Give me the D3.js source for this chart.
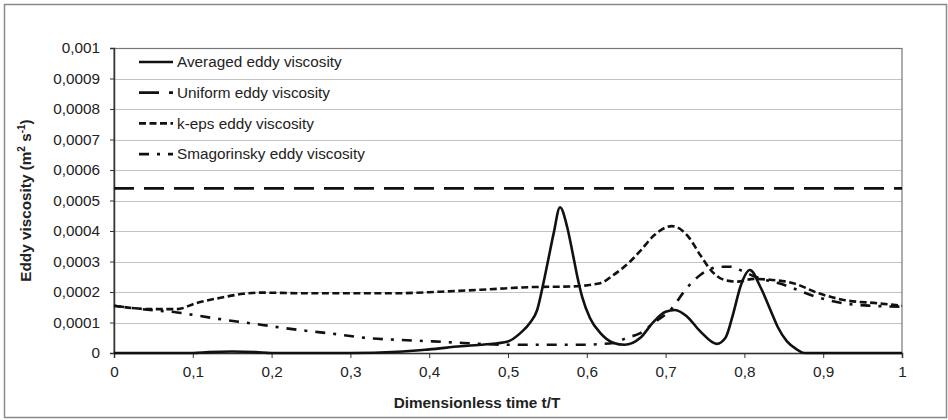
<!DOCTYPE html>
<html>
<head>
<meta charset="utf-8">
<script src="https://cdn.jsdelivr.net/npm/d3@7"></script>
<style>
  body { margin: 0; background: #fff; }
  svg { display: block; font-family: "Liberation Sans", Arial, sans-serif; }
</style>
</head>
<body>
<div class="chart"></div>
<script>
// values are read in units of 1e-4 m2/s
const UNIT = 1e-4;

const avgT = [0, 0.1, 0.12, 0.15, 0.18, 0.2, 0.3, 0.36, 0.4, 0.44, 0.47, 0.5, 0.516, 0.528, 0.537, 0.545, 0.551, 0.558, 0.566, 0.575, 0.582, 0.588, 0.594, 0.604, 0.617, 0.634, 0.648, 0.668, 0.685, 0.7, 0.712, 0.727, 0.744, 0.765, 0.776, 0.786, 0.795, 0.807, 0.82, 0.833, 0.842, 0.854, 0.867, 0.876, 1];
const avgV = [0, 0, 0.03, 0.05, 0.03, 0, 0, 0.04, 0.12, 0.22, 0.28, 0.38, 0.66, 0.99, 1.41, 2.3, 3.05, 3.93, 4.78, 4.14, 3.28, 2.5, 1.85, 1.15, 0.66, 0.33, 0.27, 0.5, 1.03, 1.35, 1.41, 1.2, 0.71, 0.3, 0.5, 1.31, 2.18, 2.72, 2.18, 1.41, 0.87, 0.38, 0.11, 0, 0];

const uniformT = [0, 1];
const uniformV = [5.4, 5.4];

const kepsT = [0, 0.046, 0.08, 0.105, 0.135, 0.164, 0.185, 0.24, 0.36, 0.414, 0.477, 0.528, 0.579, 0.617, 0.634, 0.655, 0.668, 0.685, 0.708, 0.729, 0.744, 0.759, 0.774, 0.791, 0.812, 0.833, 0.862, 0.894, 0.926, 0.969, 1];
const kepsV = [1.55, 1.44, 1.44, 1.64, 1.81, 1.94, 1.98, 1.96, 1.96, 2.01, 2.09, 2.16, 2.18, 2.29, 2.56, 3.0, 3.35, 3.85, 4.16, 3.81, 3.21, 2.67, 2.4, 2.34, 2.43, 2.4, 2.29, 1.96, 1.74, 1.63, 1.55];

const smagT = [0, 0.046, 0.08, 0.1, 0.122, 0.156, 0.181, 0.215, 0.24, 0.278, 0.321, 0.363, 0.405, 0.443, 0.499, 0.592, 0.634, 0.651, 0.668, 0.685, 0.706, 0.727, 0.744, 0.77, 0.782, 0.799, 0.812, 0.829, 0.846, 0.862, 0.894, 0.926, 0.96, 1];
const smagV = [1.55, 1.41, 1.33, 1.25, 1.16, 1.03, 0.95, 0.82, 0.74, 0.63, 0.49, 0.43, 0.38, 0.33, 0.27, 0.27, 0.33, 0.5, 0.65, 0.99, 1.41, 2.13, 2.56, 2.83, 2.83, 2.67, 2.52, 2.38, 2.27, 2.12, 1.82, 1.63, 1.55, 1.52];

const xTicks = [0, 0.1, 0.2, 0.3, 0.4, 0.5, 0.6, 0.7, 0.8, 0.9, 1];
const yTicks = [0, 0.0001, 0.0002, 0.0003, 0.0004, 0.0005, 0.0006, 0.0007, 0.0008, 0.0009, 0.001];

const seriesNames = ['Averaged eddy viscosity', 'Uniform eddy viscosity', 'k-eps eddy viscosity', 'Smagorinsky eddy viscosity'];

const width = 948, height = 420;
const margin = { top: 48, right: 46, bottom: 67, left: 114 };
const fontSize = '15.3px';

const locale = d3.formatLocale({ decimal: ',', thousands: '.', grouping: [3], currency: ['', ''] });

const svg = d3.select('.chart')
  .append('svg')
  .attr('width', width)
  .attr('height', height);

// outer frame
svg.append('rect')
  .attr('x', 4.5).attr('y', 4.5)
  .attr('width', 942).attr('height', 413)
  .attr('fill', 'none')
  .attr('stroke', '#8a8a8a')
  .attr('stroke-width', 1.5);

const x = d3.scaleLinear().domain([0, 1]).range([margin.left, width - margin.right]);
const y = d3.scaleLinear().domain([0, 0.001]).range([height - margin.bottom, margin.top]);

// gridlines
svg.append('g')
  .selectAll('line')
  .data(yTicks.slice(1))
  .enter().append('line')
  .attr('x1', x(0)).attr('x2', x(1))
  .attr('y1', d => Math.round(y(d)) + 0.5)
  .attr('y2', d => Math.round(y(d)) + 0.5)
  .attr('stroke', '#c4c4c4')
  .attr('stroke-width', 1);

// plot frame
svg.append('rect')
  .attr('x', x(0)).attr('y', Math.round(y(0.001)) + 0.5)
  .attr('width', x(1) - x(0))
  .attr('height', y(0) - y(0.001))
  .attr('fill', 'none')
  .attr('stroke', '#777')
  .attr('stroke-width', 1.2);

const xAxis = svg.append('g')
  .attr('transform', `translate(0,${y(0)})`)
  .call(d3.axisBottom(x).tickValues(xTicks).tickSize(5).tickPadding(8).tickFormat(locale.format('.1~f')));

const yAxis = svg.append('g')
  .attr('transform', `translate(${x(0)},0)`)
  .call(d3.axisLeft(y).tickValues(yTicks).tickSize(4).tickPadding(10).tickFormat(locale.format('.4~f')));

[xAxis, yAxis].forEach(ax => {
  ax.select('.domain').attr('stroke', '#333').attr('stroke-width', 1.5);
  ax.selectAll('.tick line').attr('stroke', '#333');
  ax.selectAll('.tick text')
    .attr('fill', '#222')
    .style('font-size', fontSize)
    .style('font-family', '"Liberation Sans", Arial, sans-serif');
});

// series
const line = d3.line()
  .x(d => x(d[0]))
  .y(d => y(d[1] * UNIT))
  .curve(d3.curveMonotoneX);

const series = [
  { pts: d3.zip(avgT, avgV), dash: null, w: 2.6 },
  { pts: d3.zip(uniformT, uniformV), dash: '20,10', w: 2.8 },
  { pts: d3.zip(kepsT, kepsV), dash: '7,3.5', w: 2.6 },
  { pts: d3.zip(smagT, smagV), dash: '10,8,3,8', w: 2.6 }
];

svg.append('g')
  .selectAll('path')
  .data(series.slice().reverse())
  .enter().append('path')
  .attr('d', d => line(d.pts))
  .attr('fill', 'none')
  .attr('stroke', '#111')
  .attr('stroke-width', d => d.w)
  .attr('stroke-dasharray', d => d.dash);

// legend
const legend = svg.append('g').attr('transform', 'translate(139,62)');
const rows = legend.selectAll('g')
  .data(seriesNames)
  .enter().append('g')
  .attr('transform', (d, i) => `translate(0,${i * 30.7})`);

rows.append('line')
  .attr('x1', 0).attr('x2', 34)
  .attr('y1', 0).attr('y2', 0)
  .attr('stroke', '#111')
  .attr('stroke-width', (d, i) => series[i].w)
  .attr('stroke-dasharray', (d, i) => series[i].dash);

rows.append('text')
  .attr('x', 38)
  .attr('y', 0)
  .attr('dy', '0.35em')
  .attr('fill', '#222')
  .style('font-size', fontSize)
  .text(d => d);

// axis titles
svg.append('text')
  .attr('x', width / 2 + 3)
  .attr('y', 408)
  .attr('text-anchor', 'middle')
  .style('font-size', fontSize)
  .style('font-weight', 'bold')
  .attr('fill', '#222')
  .text('Dimensionless time t/T');

const yTitle = svg.append('text')
  .attr('transform', `translate(31,${(y(0) + y(0.001)) / 2}) rotate(-90)`)
  .attr('text-anchor', 'middle')
  .style('font-size', fontSize)
  .style('font-weight', 'bold')
  .attr('fill', '#222');

yTitle.append('tspan').text('Eddy viscosity (m');
yTitle.append('tspan').attr('dy', -6).style('font-size', '10px').text('2');
yTitle.append('tspan').attr('dy', 6).text(' s');
yTitle.append('tspan').attr('dy', -6).style('font-size', '10px').text('-1');
yTitle.append('tspan').attr('dy', 6).text(')');
</script>
</body>
</html>
